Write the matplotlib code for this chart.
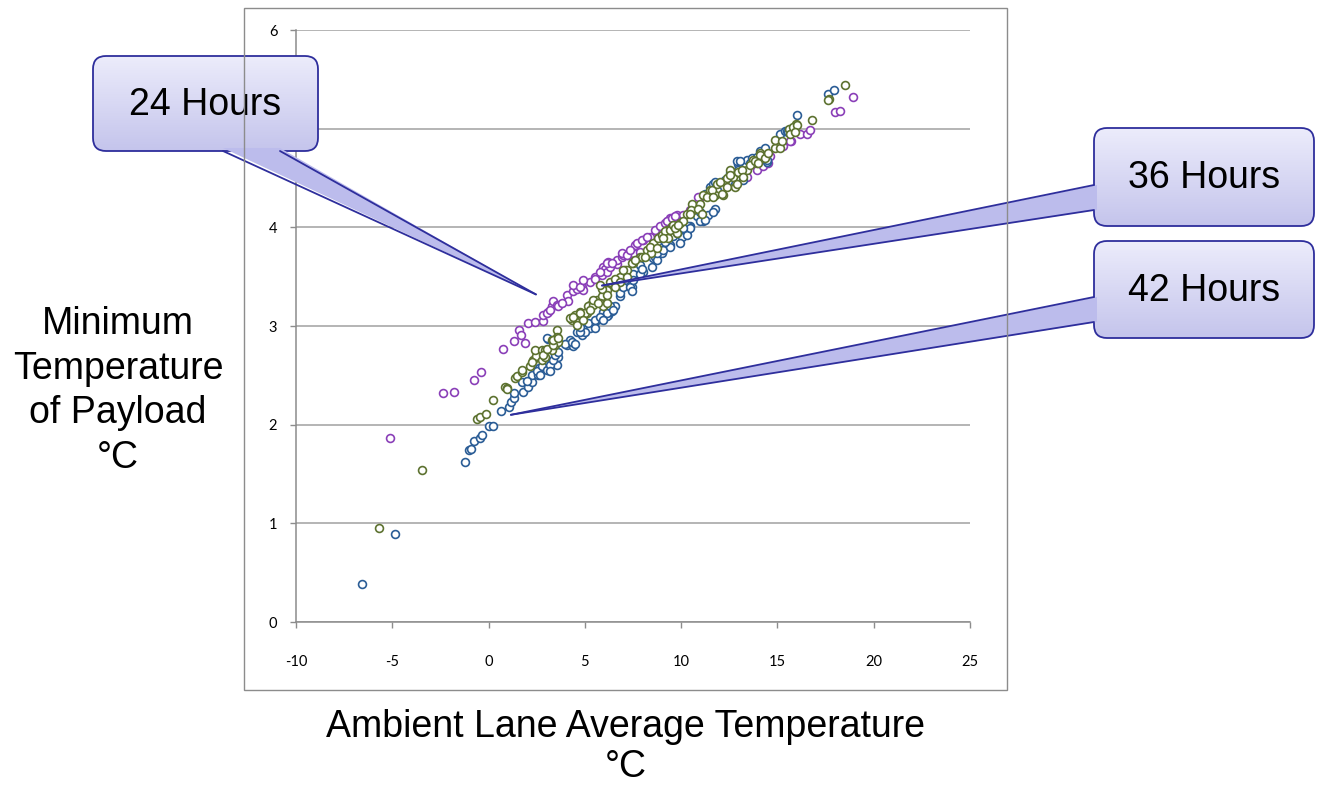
import matplotlib
matplotlib.use("Agg")
import matplotlib.pyplot as plt
import numpy as np
from matplotlib.patches import FancyBboxPatch, Polygon, Rectangle

plt.rcParams["axes.unicode_minus"] = False

# ---------------- data ----------------
blue_x = [-6.55, -4.88, -1.25, -1.02, -0.92, -0.76, -0.42, -0.33, 0.00, 0.24, 0.66, 1.08, 1.19, 1.30,
          1.34, 1.80, 1.72, 2.06, 2.24, 2.24, 2.58, 2.62, 2.93, 3.10, 3.28, 3.53, 3.62, 3.10, 4.06,
          4.23, 4.40, 4.57, 4.92, 5.27, 5.61, 5.96, 6.22, 6.82, 6.82, 7.08, 7.43, 7.52, 7.86, 7.95,
          8.04, 8.38, 8.56, 8.64, 8.82, 9.25, 9.25, 10.02, 10.28, 10.46, 10.81, 10.98, 11.15, 11.41,
          11.24, 11.50, 11.67, 11.76, 11.84, 12.45, 12.54, 12.97, 12.97, 13.23, 13.40, 13.66, 13.92,
          14.10, 14.35, 14.44, 14.44, 15.13, 15.39, 15.48, 16.04, 17.62, 17.93,
          1.98, 2.50, 2.67, 2.76, 3.02, 3.19, 3.36, 3.19, 3.45, 3.62, 3.02, 3.97, 4.32, 4.49, 4.84,
          5.01, 4.75, 5.53, 5.87, 6.13, 6.39, 6.56, 4.75, 5.18, 5.53, 5.79, 6.13, 5.96, 6.31, 6.48,
          7.00, 7.34, 7.43, 7.52, 7.86, 7.95, 8.47, 8.73, 8.99, 9.07, 9.33, 9.42, 9.59, 9.77, 10.20,
          10.28, 9.94, 10.37, 8.73, 9.07, 9.42, 10.46, 10.98, 11.24, 11.67, 11.76, 12.28, 12.88,
          13.57, 13.06, 15.57, 9.16, 10.11]
blue_y = [0.39, 0.89, 1.62, 1.74, 1.75, 1.83, 1.86, 1.90, 1.99, 1.99, 2.14, 2.18, 2.23, 2.27,
          2.32, 2.33, 2.43, 2.38, 2.43, 2.50, 2.50, 2.57, 2.62, 2.55, 2.65, 2.60, 2.69, 2.87, 2.81,
          2.86, 2.80, 2.94, 2.93, 2.98, 3.06, 3.14, 3.11, 3.30, 3.33, 3.47, 3.40, 3.53, 3.62, 3.57,
          3.55, 3.74, 3.69, 3.70, 3.82, 3.84, 3.90, 3.90, 3.96, 4.01, 4.11, 4.16, 4.06, 4.12,
          4.34, 4.41, 4.44, 4.19, 4.38, 4.47, 4.55, 4.64, 4.58, 4.48, 4.68, 4.70, 4.71,
          4.77, 4.80, 4.66, 4.68, 4.95, 4.98, 4.98, 5.14, 5.35, 5.39,
          2.44, 2.54, 2.50, 2.59, 2.55, 2.60, 2.66, 2.54, 2.71, 2.74, 2.88, 2.82, 2.84, 2.82, 2.91,
          2.94, 2.94, 2.98, 3.08, 3.10, 3.15, 3.20, 2.99, 3.03, 3.06, 3.09, 3.13, 3.06, 3.20, 3.16,
          3.40, 3.40, 3.35, 3.47, 3.53, 3.58, 3.60, 3.67, 3.74, 3.80, 3.85, 3.82, 3.91, 3.94, 3.97,
          3.92, 3.84, 4.01, 3.74, 3.77, 3.80, 3.99, 4.06, 4.07, 4.16, 4.46, 4.48, 4.67,
          4.65, 4.67, 4.97, 3.85, 3.99]

green_x = [-5.69, -3.46, -0.62, -0.44, -0.15, 0.25, 0.85, 0.97, 1.37, 1.46, 1.76, 2.15, 2.33, 2.46,
           2.41, 2.76, 2.93, 3.28, 3.28, 3.53, 3.53, 2.76, 2.93, 3.45, 3.62, 4.32, 4.57, 4.92, 5.10,
           4.75, 5.27, 5.61, 5.87, 6.13, 5.87, 6.39, 6.48, 6.82, 7.08, 7.17, 7.51, 7.51, 7.86, 7.95,
           8.21, 8.46, 8.56, 8.90, 9.25, 9.51, 9.94, 10.28, 10.63, 10.55, 10.98, 10.50, 11.15, 11.50,
           11.76, 12.19, 12.37, 12.80, 12.53, 12.71, 13.06, 13.40, 13.74, 13.92, 14.10, 14.87, 14.87,
           15.13, 15.22, 15.60, 15.99, 16.77, 17.68, 18.49,
           0.94, 1.72, 2.24, 2.84, 3.02, 3.36, 3.36, 3.62, 4.23, 4.49, 4.66, 4.84, 5.01, 4.57, 5.18,
           5.44, 5.79, 5.96, 6.13, 4.40, 4.75, 4.92, 5.44, 5.79, 6.31, 6.57, 7.00, 7.43, 7.60, 8.38,
           8.73, 8.82, 8.99, 9.16, 9.33, 9.42, 9.59, 9.77, 10.11, 8.12, 7.17, 6.82, 6.57, 6.13, 5.70,
           5.27, 9.07, 9.68, 9.86, 10.46, 10.89, 11.07, 11.33, 11.59, 11.67, 11.84, 12.02, 12.11,
           12.37, 12.54, 12.88, 12.97, 13.14, 13.23, 13.57, 13.83, 14.10, 14.35, 14.53, 14.01, 15.65,
           15.83, 16.00, 15.91, 17.65]
green_y = [0.95, 1.54, 2.06, 2.08, 2.11, 2.25, 2.38, 2.37, 2.47, 2.49, 2.53, 2.59, 2.66, 2.70,
           2.76, 2.76, 2.76, 2.76, 2.86, 2.96, 2.89, 2.66, 2.69, 2.81, 2.84, 3.06, 3.04, 3.09, 3.13,
           3.14, 3.21, 3.26, 3.30, 3.36, 3.38, 3.43, 3.43, 3.50, 3.57, 3.57, 3.64, 3.65, 3.70, 3.70,
           3.77, 3.74, 3.84, 3.90, 3.97, 4.01, 4.04, 4.14, 4.18, 4.24, 4.24, 4.18, 4.33, 4.38,
           4.33, 4.33, 4.41, 4.41, 4.58, 4.51, 4.55, 4.58, 4.68, 4.65, 4.75, 4.80, 4.89,
           4.80, 4.88, 5.00, 5.05, 5.09, 5.30, 5.44,
           2.36, 2.55, 2.64, 2.71, 2.77, 2.81, 2.86, 2.88, 3.08, 3.11, 3.04, 3.09, 3.13, 3.01, 3.20,
           3.21, 3.23, 3.20, 3.23, 3.09, 3.13, 3.06, 3.26, 3.42, 3.45, 3.48, 3.57, 3.64, 3.67, 3.80,
           3.79, 3.89, 3.92, 3.96, 3.89, 3.97, 4.02, 3.94, 4.06, 3.70, 3.50, 3.45, 3.40, 3.31, 3.23,
           3.16, 3.89, 3.99, 4.02, 4.14, 4.19, 4.14, 4.31, 4.38, 4.31, 4.44, 4.46, 4.34,
           4.50, 4.53, 4.44, 4.56, 4.58, 4.51, 4.63, 4.67, 4.73, 4.70, 4.75, 4.65, 4.95,
           5.02, 5.04, 4.97, 5.29]

purple_x = [-5.12, -2.38, -1.82, -0.74, -0.41, 0.75, 1.34, 1.58, 1.68, 1.91, 2.06, 2.41, 2.81, 2.84,
            3.10, 3.28, 3.36, 3.53, 3.62, 4.06, 4.14, 4.40, 4.57, 4.83, 4.92, 5.27, 5.53, 5.87, 5.96,
            6.05, 6.13, 6.22, 6.31, 6.65, 6.65, 6.91, 7.00, 7.26, 7.43, 7.52, 7.61, 7.86, 8.04, 8.38,
            8.82, 9.42, 9.77, 10.11, 10.46, 10.98, 12.97, 13.40, 13.92, 14.27, 14.61, 15.73, 16.17,
            16.52, 16.69, 18.00, 18.25, 18.94,
            3.02, 3.19, 3.80, 4.40, 4.75, 4.92, 5.53, 5.79, 6.13, 6.39, 6.91, 7.17, 7.34, 7.69, 7.95,
            8.21, 8.64, 8.90, 9.16, 9.33, 9.25, 9.51, 9.68, 10.89, 12.54, 13.57, 14.53, 15.31, 15.65]
purple_y = [1.86, 2.32, 2.33, 2.45, 2.53, 2.77, 2.85, 2.96, 2.91, 2.83, 3.03, 3.04, 3.05, 3.11,
            3.14, 3.20, 3.25, 3.21, 3.20, 3.31, 3.25, 3.35, 3.38, 3.40, 3.36, 3.45, 3.50, 3.52, 3.60,
            3.58, 3.55, 3.65, 3.60, 3.63, 3.67, 3.70, 3.72, 3.72, 3.77, 3.74, 3.82, 3.75, 3.87, 3.90,
            3.95, 4.09, 4.12, 4.12, 4.18, 4.31, 4.51, 4.51, 4.58, 4.62, 4.72, 4.87, 4.95,
            4.95, 4.99, 5.17, 5.18, 5.32,
            3.13, 3.16, 3.23, 3.42, 3.40, 3.47, 3.48, 3.55, 3.64, 3.64, 3.74, 3.72, 3.77, 3.84, 3.87,
            3.90, 3.97, 4.01, 4.04, 4.06, 4.06, 4.09, 4.11, 4.31, 4.50, 4.68, 4.65, 4.82, 4.87]

x_ticks = [-10, -5, 0, 5, 10, 15, 20, 25]
y_ticks = [0, 1, 2, 3, 4, 5, 6]

callout_labels = ["24 Hours", "36 Hours", "42 Hours"]
callout_tips = [(2.46, 3.32), (5.89, 3.41), (1.16, 2.10)]  # data coords of pointer tips

# ---------------- figure ----------------
W, H = 1317, 788
fig = plt.figure(figsize=(W / 100, H / 100), dpi=100)
fig.patch.set_facecolor("white")

# outer chart border
fig.patches.append(Rectangle((244 / W, 1 - 690 / H), 763 / W, 682 / H,
                             transform=fig.transFigure, fill=False,
                             edgecolor="#8c8c8c", linewidth=1.0))

ax = fig.add_axes([296 / W, 1 - 622 / H, 674 / W, 592 / H])
ax.set_xlim(-10, 25)
ax.set_ylim(0, 6)

grid_c = "#a0a0a0"
for s in ["top", "right"]:
    ax.spines[s].set_visible(False)
for s in ["left", "bottom"]:
    ax.spines[s].set_color("#8c8c8c")
    ax.spines[s].set_linewidth(1.1)
ax.set_yticks(y_ticks)
ax.set_xticks(x_ticks)
ax.yaxis.grid(True, color=grid_c, linewidth=1.1)
ax.set_axisbelow(True)
ax.tick_params(axis="x", length=4.5, width=1, color="#8c8c8c", pad=19, labelsize=10.5)
ax.tick_params(axis="y", length=4.5, width=1, color="#8c8c8c", pad=9, labelsize=10.5)
for lab in ax.get_xticklabels() + ax.get_yticklabels():
    lab.set_fontfamily("Lato")

mk = dict(s=32, facecolors="white", linewidths=1.2, marker="o")
ax.scatter(purple_x, purple_y, edgecolors="#8a3fb8", zorder=3, **mk)
ax.scatter(blue_x, blue_y, edgecolors="#2b5d96", zorder=4, **mk)
ax.scatter(green_x, green_y, edgecolors="#5d7230", zorder=5, **mk)

# axis titles
fig.text(118 / W, 1 - 391 / H, "Minimum\nTemperature\nof Payload\n°C", ha="center", va="center",
         fontsize=27, family="Liberation Sans", linespacing=1.3, multialignment="center")
fig.text(626 / W, 1 - 727 / H, "Ambient Lane Average Temperature", ha="center", va="center",
         fontsize=27, family="Liberation Sans")
fig.text(626 / W, 1 - 767 / H, "°C", ha="center", va="center",
         fontsize=27, family="Liberation Sans")

# ---------------- callouts (overlay in pixel coordinates) ----------------
fig.canvas.draw()
ov = fig.add_axes([0, 0, 1, 1])
ov.set_xlim(0, W)
ov.set_ylim(H, 0)
ov.set_autoscale_on(False)
ov.axis("off")


def tip_px(pt):
    dx, dy = ax.transData.transform(pt)
    return dx, H - dy


edge_c = "#2e2e9c"
top_c = np.array([0.925, 0.925, 0.985])
bot_c = np.array([0.77, 0.77, 0.925])
grad = np.linspace(0, 1, 100)[:, None, None] * (bot_c - top_c) + top_c
grad = np.repeat(grad, 2, axis=1)

boxes = [(93, 56, 318, 151), (1094, 128, 1314, 226), (1094, 241, 1314, 338)]
bases = [((223, 151), (280, 151), "bottom"),
         ((1094, 185), (1094, 210), "left"),
         ((1094, 297), (1094, 322), "left")]

for (x0, y0, x1, y1), (b1, b2, side), lab, tip in zip(boxes, bases, callout_labels, callout_tips):
    tx, ty = tip_px(tip)
    patch = FancyBboxPatch((x0, y0), x1 - x0, y1 - y0,
                           boxstyle="round,pad=0,rounding_size=13",
                           facecolor="none", edgecolor=edge_c, linewidth=1.3, zorder=3)
    ov.add_patch(patch)
    im = ov.imshow(grad, extent=(x0, x1, y1, y0), origin="upper", aspect="auto", zorder=2)
    im.set_clip_path(patch)
    if side == "bottom":
        poly = [(b1[0], b1[1] - 3), (b2[0], b2[1] - 3), (tx, ty)]
    else:
        poly = [(b1[0] + 3, b1[1]), (b2[0] + 3, b2[1]), (tx, ty)]
    ov.add_patch(Polygon(poly, closed=True, facecolor="#bcbcec", edgecolor="none", zorder=4))
    ov.plot([b1[0], tx], [b1[1], ty], color=edge_c, lw=1.3, zorder=5, solid_capstyle="round")
    ov.plot([b2[0], tx], [b2[1], ty], color=edge_c, lw=1.3, zorder=5, solid_capstyle="round")
    ov.text((x0 + x1) / 2, (y0 + y1) / 2 + 1, lab, ha="center", va="center",
            fontsize=27, family="Liberation Sans", zorder=6)

fig.savefig("out.png", dpi=100)
